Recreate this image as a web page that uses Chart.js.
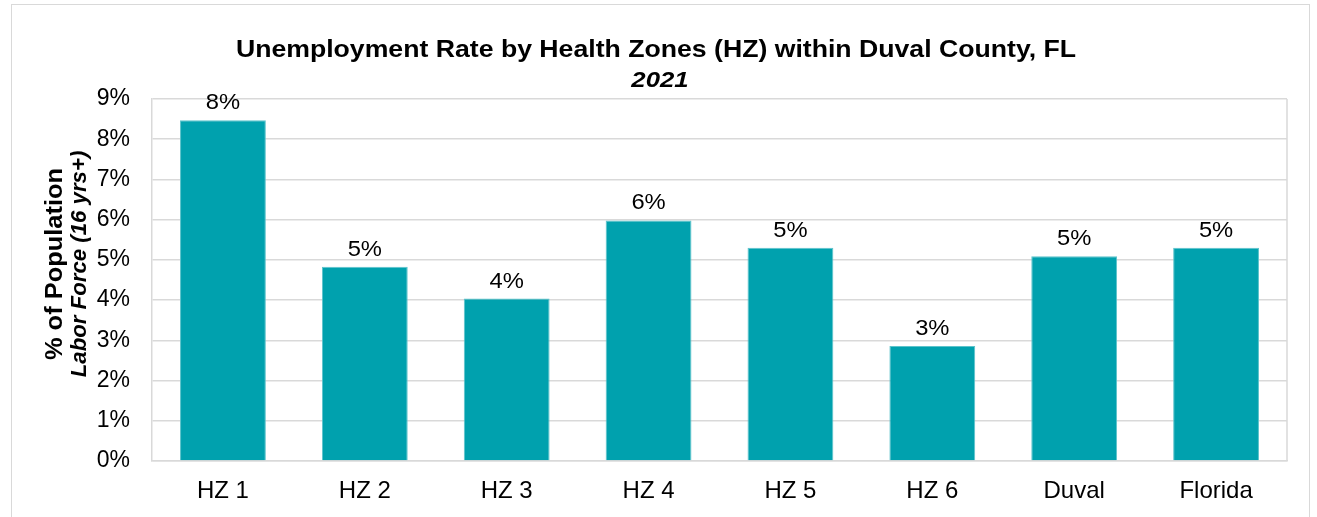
<!DOCTYPE html>
<html>
<head>
<meta charset="utf-8">
<script src="https://cdn.jsdelivr.net/npm/chart.js@4.4.0/dist/chart.umd.min.js"></script>
<style>
html,body{margin:0;padding:0;background:#fff;}
#wrap{position:relative;width:1317px;height:517px;}
</style>
</head>
<body>
<div id="wrap"><canvas id="c" width="1317" height="517"></canvas></div>
<script>
const categories = ['HZ 1','HZ 2','HZ 3','HZ 4','HZ 5','HZ 6','Duval','Florida'];
const values = [8.47, 4.83, 4.04, 5.98, 5.30, 2.86, 5.09, 5.30];
const yTicks = [0,1,2,3,4,5,6,7,8,9];
const titleLine1 = 'Unemployment Rate by Health Zones (HZ) within Duval County, FL';
const titleLine2 = '2021';
const yTitle1 = '% of Population';
const yTitle2 = 'Labor Force (16 yrs+)';

const FONT = '"Liberation Sans", Arial, sans-serif';
const barColor = '#00a1ae';

function stretchedText(ctx, text, x, y, sx) {
  ctx.save();
  ctx.translate(x, y);
  ctx.scale(sx, 1);
  ctx.fillText(text, 0, 0);
  ctx.restore();
}

const decor = {
  id: 'decor',
  beforeDraw(chart) {
    const ctx = chart.ctx;
    ctx.save();
    ctx.fillStyle = '#fff';
    ctx.fillRect(0, 0, chart.width, chart.height);
    ctx.strokeStyle = '#d9d9d9';
    ctx.lineWidth = 1;
    ctx.strokeRect(11.5, 4.5, 1298, 530);
    ctx.restore();
  },
  afterDraw(chart) {
    const ctx = chart.ctx;
    const a = chart.chartArea;
    ctx.save();
    ctx.strokeStyle = '#d9d9d9';
    ctx.lineWidth = 1.5;
    ctx.beginPath();
    ctx.moveTo(a.right, a.top);
    ctx.lineTo(a.right, a.bottom);
    ctx.stroke();
    ctx.fillStyle = '#000';
    ctx.textAlign = 'center';
    ctx.textBaseline = 'alphabetic';
    ctx.font = 'bold 24px ' + FONT;
    stretchedText(ctx, titleLine1, 656, 56.5, 1.11);
    ctx.font = 'italic bold 22px ' + FONT;
    stretchedText(ctx, titleLine2, 660, 87, 1.17);
    ctx.translate(0, 264);
    ctx.rotate(-Math.PI / 2);
    ctx.font = 'bold 24px ' + FONT;
    stretchedText(ctx, yTitle1, 0, 61.5, 1.06);
    ctx.font = 'italic bold 22px ' + FONT;
    stretchedText(ctx, yTitle2, 0, 85.5, 1.01);
    ctx.restore();
  },
  afterDatasetsDraw(chart) {
    const ctx = chart.ctx;
    const meta = chart.getDatasetMeta(0);
    ctx.save();
    ctx.fillStyle = '#000';
    ctx.font = '22px ' + FONT;
    ctx.textAlign = 'center';
    ctx.textBaseline = 'alphabetic';
    meta.data.forEach((bar, i) => {
      stretchedText(ctx, Math.round(values[i]) + '%', bar.x, bar.y - 11, 1.08);
    });
    ctx.restore();
  }
};

new Chart(document.getElementById('c'), {
  type: 'bar',
  data: {
    labels: categories,
    datasets: [{
      data: values,
      backgroundColor: barColor,
      borderColor: '#5cc3cb',
      borderWidth: 1,
      categoryPercentage: 0.605,
      barPercentage: 1
    }]
  },
  options: {
    responsive: false,
    animation: false,
    events: [],
    layout: { padding: { top: 99, right: 30, left: 0, bottom: 0 } },
    plugins: { legend: { display: false }, title: { display: false }, tooltip: { enabled: false } },
    scales: {
      x: {
        grid: { display: false, drawTicks: false },
        border: { display: true, color: '#d9d9d9', width: 1.5 },
        ticks: { color: '#000', font: { family: FONT, size: 24 }, padding: 16, maxRotation: 0 },
        afterFit(s) { s.height = 56; }
      },
      y: {
        min: 0, max: 9,
        afterBuildTicks(s) { s.ticks = yTicks.map(v => ({ value: v })); },
        grid: { color: '#d9d9d9', lineWidth: 1.5, drawTicks: false },
        border: { display: true, color: '#d9d9d9', width: 1.5 },
        ticks: { color: '#000', font: { family: FONT, size: 23 }, padding: 22, callback: v => v + '%' },
        afterFit(s) { s.width = 152; }
      }
    }
  },
  plugins: [decor]
});
</script>
</body>
</html>
